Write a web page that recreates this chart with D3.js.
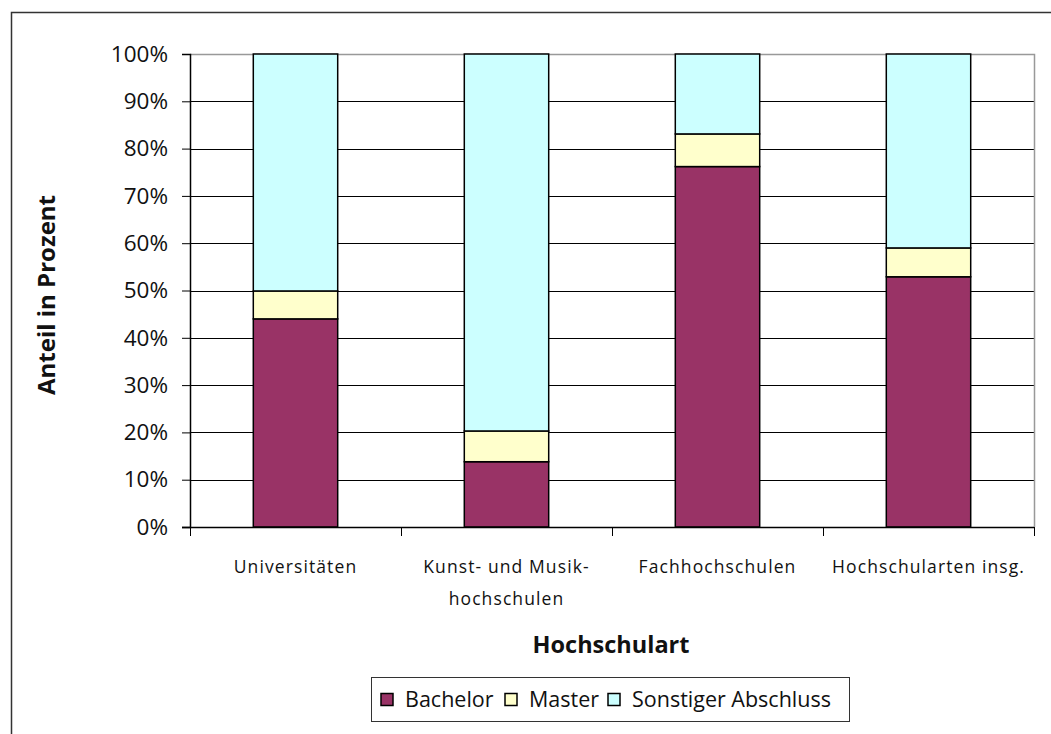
<!DOCTYPE html>
<html>
<head>
<meta charset="utf-8">
<script src="https://cdn.jsdelivr.net/npm/d3@7"></script>
<style>
  body { margin: 0; background: #fff; }
  svg text { font-family: "Open Sans", "DejaVu Sans", sans-serif; fill: #111; }
</style>
</head>
<body>
<script>
// data
var categories = [["Universitäten"], ["Kunst- und Musik-", "hochschulen"], ["Fachhochschulen"], ["Hochschularten insg."]];
var seriesNames = ["Bachelor", "Master", "Sonstiger Abschluss"];
var colors = ["#993366", "#ffffcc", "#ccffff"];
var bachelor = [44.0, 13.8, 76.2, 52.9];
var master = [5.9, 6.5, 6.9, 6.1];
var sonstige = [50.1, 79.7, 16.9, 41.0];
var yTicks = [0, 10, 20, 30, 40, 50, 60, 70, 80, 90, 100];

var w = 1051, h = 734;
var plotLeft = 190, plotRight = 1034, plotTop = 54, plotBottom = 527;

var svg = d3.select("body").append("svg")
  .attr("width", w)
  .attr("height", h);

// outer frame (runs off the picture on the right and bottom)
svg.append("rect")
  .attr("x", 11.5).attr("y", 12.5)
  .attr("width", w + 10).attr("height", h + 10)
  .attr("fill", "none").attr("stroke", "#333").attr("stroke-width", 1.5);

var x = d3.scaleBand()
  .domain(d3.range(categories.length))
  .range([plotLeft, plotRight])
  .paddingInner(0.6).paddingOuter(0.3);

var y = d3.scaleLinear().domain([0, 100]).range([plotBottom, plotTop]);

// gridlines
svg.append("g").selectAll("line")
  .data(yTicks.filter(function(d){ return d > 0 && d < 100; }))
  .enter().append("line")
  .attr("x1", plotLeft).attr("x2", plotRight)
  .attr("y1", function(d){ return Math.round(y(d)) + 0.5; })
  .attr("y2", function(d){ return Math.round(y(d)) + 0.5; })
  .attr("stroke", "#000").attr("stroke-width", 1);

// plot border top / right in gray
svg.append("path")
  .attr("d", "M" + plotLeft + "," + (plotTop + 0.5) + "H" + (plotRight + 0.5) + "V" + plotBottom)
  .attr("fill", "none").attr("stroke", "#999").attr("stroke-width", 1.5);

// stacked bars
var rows = categories.map(function(c, i){
  return { i: i, Bachelor: bachelor[i], Master: master[i], "Sonstiger Abschluss": sonstige[i] };
});
var stack = d3.stack().keys(seriesNames)(rows);

svg.append("g").selectAll("g")
  .data(stack)
  .enter().append("g")
  .attr("fill", function(d, k){ return colors[k]; })
  .selectAll("rect")
  .data(function(d){ return d; })
  .enter().append("rect")
  .attr("x", function(d){ return x(d.data.i); })
  .attr("y", function(d){ return y(d[1]); })
  .attr("width", x.bandwidth())
  .attr("height", function(d){ return y(d[0]) - y(d[1]); })
  .attr("stroke", "#000").attr("stroke-width", 1.5);

// y axis
var yAxis = svg.append("g")
  .attr("transform", "translate(" + plotLeft + ",0)")
  .call(d3.axisLeft(y).tickValues(yTicks).tickSize(8).tickPadding(14)
    .tickFormat(function(d){ return d + "%"; }));
yAxis.select(".domain").attr("stroke", "#000").attr("stroke-width", 1.5);
yAxis.selectAll(".tick line").attr("stroke", "#000");
yAxis.selectAll(".tick text").attr("font-size", 22.5).attr("fill", "#111")
  .style("font-family", "'Open Sans', sans-serif");

// x axis: ticks between categories
var xAxisG = svg.append("g");
xAxisG.append("line")
  .attr("x1", plotLeft - 8).attr("x2", plotRight)
  .attr("y1", plotBottom + 0.5).attr("y2", plotBottom + 0.5)
  .attr("stroke", "#000").attr("stroke-width", 1.5);
xAxisG.selectAll(".sep")
  .data(d3.range(categories.length + 1))
  .enter().append("line")
  .attr("x1", function(d){ return Math.round(plotLeft + d * (plotRight - plotLeft) / categories.length) + 0.5; })
  .attr("x2", function(d){ return Math.round(plotLeft + d * (plotRight - plotLeft) / categories.length) + 0.5; })
  .attr("y1", plotBottom).attr("y2", plotBottom + 9)
  .attr("stroke", "#000");

xAxisG.selectAll(".lab")
  .data(categories)
  .enter().append("text")
  .attr("text-anchor", "middle")
  .attr("font-size", 17.5)
  .attr("letter-spacing", 1.1)
  .attr("x", function(d, i){ return x(i) + x.bandwidth() / 2; })
  .attr("y", 573)
  .selectAll("tspan")
  .data(function(d){ return d; })
  .enter().append("tspan")
  .attr("x", function(){ return d3.select(this.parentNode).attr("x"); })
  .attr("dy", function(d, j){ return j === 0 ? 0 : 32; })
  .text(function(d){ return d; });

// axis titles
svg.append("text")
  .attr("x", 611).attr("y", 653)
  .attr("text-anchor", "middle")
  .attr("font-size", 23.5).attr("font-weight", "bold")
  .text("Hochschulart");

svg.append("text")
  .attr("transform", "translate(55,295) rotate(-90)")
  .attr("text-anchor", "middle")
  .attr("font-size", 24).attr("font-weight", "bold")
  .text("Anteil in Prozent");

// legend
var legend = svg.append("g");
legend.append("rect")
  .attr("x", 371.5).attr("y", 677.5)
  .attr("width", 478).attr("height", 44)
  .attr("fill", "#fff").attr("stroke", "#333").attr("stroke-width", 1);

var legendX = [381, 505, 608];
var items = legend.selectAll(".item")
  .data(seriesNames)
  .enter().append("g")
  .attr("transform", function(d, k){ return "translate(" + legendX[k] + ",693.5)"; });
items.append("rect")
  .attr("width", 12).attr("height", 12)
  .attr("fill", function(d, k){ return colors[k]; })
  .attr("stroke", "#000").attr("stroke-width", 1.5);
items.append("text")
  .attr("x", 24).attr("y", 13.5)
  .attr("font-size", 21.5)
  .text(function(d){ return d; });
</script>
</body>
</html>
